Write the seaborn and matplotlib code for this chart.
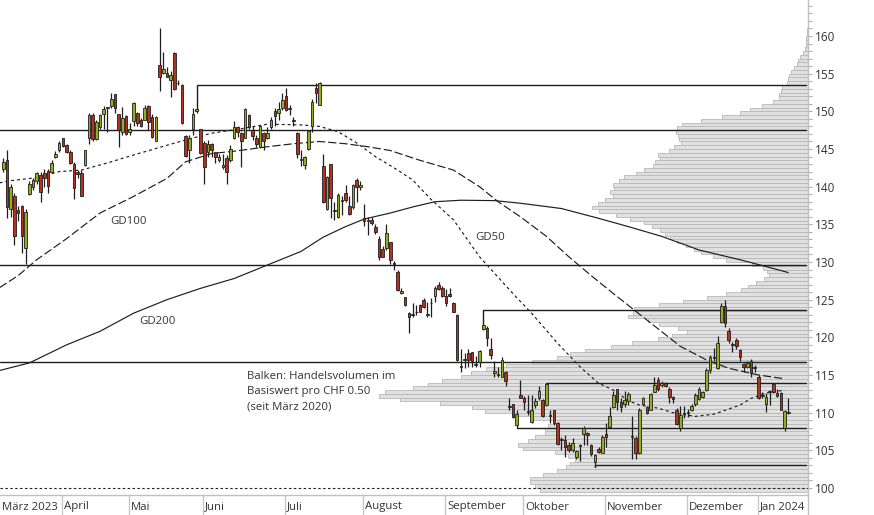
import numpy as np
import pandas as pd
import seaborn as sns
import matplotlib.pyplot as plt

# daily candles in CHF, 9 Mar 2023 .. 12 Jan 2024
opens = [142.4, 143.6, 137.1, 138.8, 136.9, 137.4, 131.8, 139.0, 140.0, 140.7,
         141.5, 141.8, 142.1, 142.0, 144.0, 144.9, 146.4, 145.5, 144.6, 143.0,
         141.9, 141.8, 142.9, 146.5, 149.5, 146.3, 147.9, 149.6, 150.5, 150.7,
         152.3, 149.7, 147.3, 149.4, 147.2, 148.7, 149.8, 148.8, 148.9, 150.7,
         149.3, 146.0, 156.2, 155.1, 155.1, 154.2, 157.8, 153.8, 153.5, 146.7,
         144.9, 147.7, 150.0, 147.7, 145.8, 144.6, 145.6, 144.6, 143.6, 142.6,
         143.8, 143.5, 146.4, 147.9, 147.1, 146.5, 149.5, 147.5, 146.5, 145.2,
         147.1, 146.5, 147.9, 150.0, 149.8, 150.4, 152.0, 150.3, 148.8, 147.1,
         143.6, 142.9, 145.0, 148.1, 153.1, 150.9, 142.8, 137.1, 143.0, 136.8,
         136.0, 138.1, 139.2, 137.4, 137.3, 140.9, 139.9, 135.9, 135.4, 135.6,
         134.7, 133.1, 131.7, 131.8, 132.6, 129.8, 128.7, 125.9, 125.3, 123.2,
         123.0, 123.3, 124.3, 125.0, 123.0, 124.5, 125.5, 126.9, 126.5, 125.5,
         125.8, 124.6, 123.0, 116.1, 117.0, 117.9, 118.0, 116.3, 116.7, 121.1,
         121.3, 118.4, 115.2, 115.0, 114.8, 115.4, 110.8, 111.2, 108.4, 112.3,
         111.9, 110.1, 108.7, 111.0, 112.0, 111.7, 111.0, 109.6, 110.4, 108.6,
         106.4, 106.4, 105.7, 105.0, 104.1, 105.6, 107.2, 107.3, 105.7, 103.5,
         105.2, 104.7, 107.2, 108.05, 110.8, 113.1, 111.4, 111.1, 111.5, 106.8,
         106.7, 104.6, 111.1, 110.8, 110.4, 112.8, 114.3, 113.7, 114.0, 113.2,
         112.1, 110.4, 108.0, 109.8, 109.9, 110.4, 111.1, 111.8, 112.1, 113.0,
         115.7, 117.3, 115.9, 122.1, 124.1, 120.9, 119.0, 119.6, 118.3, 116.5,
         116.1, 116.9, 115.9, 114.8, 112.2, 111.1, 112.8, 113.8, 112.6, 112.6,
         107.9, 110.0]
highs = [143.8, 144.9, 140.4, 139.1, 137.4, 137.6, 137.1, 140.8, 141.2, 142.0,
         142.0, 142.4, 142.4, 143.5, 144.7, 146.1, 146.5, 145.7, 144.9, 143.3,
         142.2, 142.2, 144.9, 149.8, 149.8, 148.8, 149.6, 150.7, 150.6, 152.4,
         152.3, 149.7, 150.6, 149.5, 148.4, 151.3, 149.9, 149.1, 150.8, 150.8,
         149.7, 149.4, 161.0, 157.9, 155.9, 155.3, 157.9, 154.2, 153.6, 146.9,
         146.9, 150.5, 150.4, 147.7, 146.0, 146.2, 145.8, 144.6, 144.4, 144.4,
         144.2, 145.5, 148.7, 148.0, 147.2, 150.5, 149.7, 148.0, 146.9, 148.2,
         147.2, 147.9, 149.2, 150.4, 151.3, 152.5, 153.1, 150.8, 149.3, 147.2,
         144.9, 144.1, 147.5, 151.6, 153.7, 153.9, 144.4, 141.4, 143.0, 138.0,
         139.2, 138.8, 140.2, 138.7, 140.4, 141.2, 140.7, 137.7, 136.0, 136.0,
         135.0, 133.4, 132.1, 135.0, 132.7, 130.1, 128.9, 126.5, 125.4, 123.3,
         124.6, 124.3, 124.4, 125.2, 124.7, 125.2, 126.8, 127.3, 126.8, 126.4,
         126.6, 124.7, 123.1, 118.5, 117.9, 118.5, 118.1, 117.5, 118.3, 121.7,
         121.5, 119.9, 116.9, 116.1, 117.4, 115.5, 111.9, 111.2, 110.4, 114.3,
         112.2, 112.3, 112.3, 111.9, 113.5, 111.8, 113.9, 110.4, 110.4, 108.8,
         106.8, 107.0, 106.1, 106.6, 105.1, 105.8, 108.2, 107.4, 105.8, 104.5,
         105.4, 107.0, 108.6, 110.8, 112.9, 113.2, 111.9, 112.9, 112.8, 109.5,
         106.9, 110.6, 112.1, 110.9, 112.6, 114.8, 114.7, 114.2, 114.1, 113.4,
         112.2, 110.6, 110.9, 110.9, 110.5, 111.2, 112.6, 113.4, 112.9, 115.9,
         117.7, 118.6, 120.2, 124.5, 125.0, 121.2, 119.4, 119.9, 118.5, 116.6,
         116.9, 117.1, 116.3, 115.0, 112.7, 112.6, 113.0, 113.9, 113.2, 112.8,
         110.4, 111.9]
lows = [141.9, 135.8, 136.0, 132.3, 135.5, 131.2, 129.7, 138.9, 139.6, 140.4,
        138.0, 140.0, 139.1, 141.8, 143.8, 144.6, 145.3, 144.5, 143.0, 138.3,
        141.1, 138.7, 142.7, 145.7, 146.1, 146.2, 147.7, 147.7, 147.2, 150.5,
        149.8, 145.3, 146.9, 146.9, 146.9, 148.1, 148.1, 147.9, 148.9, 147.5,
        146.5, 146.0, 152.7, 155.0, 154.5, 151.9, 152.8, 153.5, 148.3, 144.0,
        143.1, 146.9, 149.8, 144.4, 140.4, 144.0, 144.0, 143.1, 143.3, 142.4,
        140.4, 143.3, 146.3, 146.6, 142.6, 146.4, 147.7, 146.2, 145.3, 145.1,
        144.9, 146.3, 147.7, 148.0, 148.9, 150.2, 150.0, 149.5, 148.0, 143.8,
        142.7, 142.3, 144.9, 147.3, 151.1, 150.8, 137.8, 136.9, 135.8, 135.6,
        135.9, 136.2, 138.0, 136.3, 137.1, 138.0, 139.6, 134.8, 133.6, 134.9,
        133.7, 130.2, 130.6, 131.6, 129.8, 129.0, 126.1, 125.8, 124.1, 120.6,
        122.7, 123.0, 123.3, 123.9, 122.7, 122.7, 124.7, 126.3, 125.4, 124.2,
        125.4, 123.3, 116.9, 115.4, 115.9, 116.1, 116.1, 116.1, 116.1, 121.0,
        118.8, 117.1, 114.8, 114.8, 114.7, 113.5, 110.4, 109.3, 107.9, 111.9,
        110.4, 109.7, 108.6, 110.6, 111.7, 109.4, 110.9, 108.6, 108.4, 105.7,
        105.0, 104.1, 104.8, 104.8, 103.8, 103.6, 105.7, 105.7, 104.2, 102.8,
        104.6, 104.6, 105.5, 107.9, 110.6, 110.4, 110.1, 110.8, 111.0, 103.9,
        103.8, 104.5, 111.0, 109.8, 110.3, 112.7, 112.9, 113.4, 113.4, 111.3,
        111.3, 108.4, 107.5, 109.3, 109.4, 110.2, 110.9, 111.7, 112.0, 112.9,
        115.3, 116.8, 115.8, 121.9, 121.4, 119.2, 118.1, 118.5, 116.8, 115.4,
        115.9, 114.8, 115.4, 111.8, 111.9, 110.1, 111.0, 112.6, 112.1, 110.4,
        107.6, 109.8]
closes = [143.3, 137.3, 140.0, 133.4, 136.5, 133.4, 136.6, 140.4, 140.9, 141.8,
          139.3, 141.1, 140.1, 143.2, 144.4, 145.8, 145.4, 144.6, 143.2, 139.8,
          141.7, 138.8, 144.9, 149.5, 146.3, 148.6, 149.5, 150.3, 150.6, 151.6,
          150.4, 147.5, 149.1, 147.0, 147.7, 151.1, 148.4, 148.0, 150.5, 148.6,
          146.6, 149.3, 154.6, 155.6, 154.6, 154.8, 152.9, 153.7, 148.4, 144.1,
          146.5, 149.6, 150.3, 144.5, 142.6, 145.6, 144.9, 144.0, 143.9, 142.9,
          141.9, 145.0, 147.9, 147.2, 146.0, 150.3, 147.9, 146.7, 145.7, 148.0,
          146.1, 147.1, 148.9, 149.4, 150.3, 151.5, 150.2, 150.4, 148.7, 144.3,
          143.7, 144.0, 147.4, 151.2, 152.4, 153.8, 137.9, 141.3, 138.5, 136.9,
          138.9, 138.2, 138.2, 136.4, 140.2, 140.0, 140.2, 135.4, 135.5, 135.2,
          134.0, 130.7, 130.7, 133.9, 130.3, 129.7, 126.3, 126.2, 124.3, 122.7,
          123.1, 123.4, 123.4, 124.0, 123.0, 124.6, 126.5, 126.4, 125.5, 124.6,
          125.5, 123.4, 117.0, 116.2, 117.0, 117.0, 116.8, 116.4, 118.2, 121.6,
          119.9, 117.7, 115.5, 115.1, 117.0, 114.2, 110.9, 109.4, 109.8, 112.0,
          111.4, 110.2, 110.4, 111.6, 112.9, 109.6, 113.8, 109.7, 108.6, 105.8,
          106.5, 105.4, 105.1, 106.0, 104.9, 105.7, 107.9, 107.0, 104.5, 104.4,
          104.8, 106.8, 106.8, 109.6, 112.3, 111.4, 110.8, 111.7, 112.5, 106.9,
          104.6, 110.35, 111.9, 109.9, 112.5, 113.7, 113.1, 114.0, 113.6, 112.1,
          111.8, 108.5, 109.7, 109.9, 110.1, 110.9, 112.3, 113.2, 112.8, 115.7,
          117.4, 117.4, 119.2, 124.1, 121.9, 119.7, 119.1, 118.8, 117.4, 116.0,
          116.6, 115.2, 116.0, 112.0, 112.4, 112.1, 112.9, 112.8, 112.2, 110.4,
          110.2, 110.0]

# moving averages at these trading-day positions
gd50_pos = [-1, 2, 9, 15, 21, 29, 35, 44, 49, 56, 64, 71, 80, 85, 90, 95, 100, 106,
            110, 115, 121, 128, 137, 142, 149, 155, 160, 164, 168, 171, 176, 180,
            186, 191, 198, 201, 205, 210]
gd50 = [140.5, 140.8, 141.2, 142.0, 142.2, 143.3, 144.2, 145.5, 146.2, 147.1, 147.7,
        148.3, 148.2, 148.0, 147.3, 145.8, 144.0, 142.2, 140.9, 138.3, 135.6, 130.7,
        125.8, 123.2, 119.2, 116.1, 113.9, 113.0, 111.6, 111.0, 110.6, 110.0, 109.5,
        109.8, 111.0, 111.9, 112.6, 113.0]
gd100_pos = [-1, 4, 9, 17, 26, 35, 44, 49, 56, 62, 71, 78, 85, 92, 98, 104, 112, 121,
             128, 133, 139, 146, 152, 158, 164, 173, 182, 189, 195, 203, 210]
gd100 = [126.6, 128.2, 130.3, 133.1, 136.5, 138.7, 141.1, 143.3, 144.4, 144.7, 145.3,
         145.7, 146.0, 145.7, 145.3, 144.8, 143.5, 142.2, 140.0, 138.0, 136.0, 133.4,
         130.7, 128.2, 125.8, 122.3, 118.8, 117.0, 115.9, 115.0, 114.5]
gd200_pos = [-1, 7, 17, 26, 35, 44, 53, 62, 71, 80, 86, 92, 97, 104, 110, 116, 123,
             132, 139, 150, 160, 168, 177, 187, 198, 205, 211]
gd200 = [115.6, 116.6, 119.0, 120.8, 123.2, 125.0, 126.5, 127.8, 129.6, 131.4, 133.3,
         134.7, 135.7, 136.5, 137.3, 138.0, 138.2, 138.15, 137.8, 137.1, 135.8, 134.7,
         133.4, 131.6, 130.3, 129.4, 128.6]

# horizontal levels
full_levels = [147.5, 129.6, 116.75]
bracket_levels = [153.5, 123.6, 114.0, 108.0, 103.0]
bracket_start = [52, 129, 146, 138, 159]

# volume profile per CHF 0.50, from 99.50 upwards (relative units)
vol_len = [268, 273, 278, 278, 265, 251, 242, 238, 233, 240,
           253, 285, 290, 280, 273, 263, 263, 260, 251, 275,
           296, 323, 336, 368, 408, 429, 423, 395, 380, 366,
           347, 337, 322, 302, 276, 251, 238, 223, 197, 176,
           150, 136, 121, 130, 149, 160, 180, 175, 174, 149,
           125, 101, 82, 67, 60, 52, 44, 39, 41, 45,
           56, 82, 95, 107, 114, 122, 131, 138, 143, 148,
           156, 164, 178, 192, 209, 216, 210, 203, 195, 198,
           194, 195, 189, 184, 172, 164, 155, 153, 148, 150,
           139, 134, 127, 129, 130, 132, 131, 126, 107, 86,
           68, 58, 46, 35, 29, 29, 27, 26, 21, 20,
           19, 17, 14, 11, 10, 8, 5, 3, 2.5, 2,
           2, 1.5, 1]
vol_price = 99.75 + 0.5 * np.arange(len(vol_len))

holidays = ['2023-04-07', '2023-04-10', '2023-05-01', '2023-05-18', '2023-05-29',
            '2023-08-01', '2023-12-25', '2023-12-26', '2024-01-01', '2024-01-02']
dates = pd.bdate_range(start='2023-03-09', periods=len(opens), freq='C', holidays=holidays)
month_names = {1: 'Jan 2024', 3: 'März 2023', 4: 'April', 5: 'Mai', 6: 'Juni', 7: 'Juli',
               8: 'August', 9: 'September', 10: 'Oktober', 11: 'November', 12: 'Dezember'}

sns.set_theme(style='white')
plt.rcParams['font.family'] = ['Open Sans', 'DejaVu Sans']
txt = '#333333'
ink = '#1e1e1e'
green = '#95ae1f'
red = '#b5321f'
fs = 8.2

fig = plt.figure(figsize=(8.74, 5.15), dpi=100)
ax = fig.add_axes([0, 20 / 515, 808 / 874, 495 / 515])
xmin, xmax = -0.89, 216.3
ax.set_xlim(xmin, xmax)
ax.set_ylim(99.07, 164.78)

# volume profile on a twin axis, bars growing from the right edge
axv = ax.twiny()
axv.barh(vol_price, vol_len, height=0.5, left=0, color='#e0e0e0',
         edgecolor='#b9b9b9', linewidth=0.6)
axv.set_xlim(808, 0)
axv.set_xticks([])
for s in axv.spines.values():
    s.set_visible(False)
ax.set_zorder(axv.get_zorder() + 1)
ax.patch.set_visible(False)

# levels
line_end = 215.8
for lv in full_levels:
    ax.plot([xmin, line_end], [lv, lv], color=ink, lw=1.0, zorder=3)
o, h, l, c = map(np.array, (opens, highs, lows, closes))
for lv, i0 in zip(bracket_levels, bracket_start):
    anchor = h[i0] if lv > h[i0] else l[i0]
    ax.plot([i0, i0, line_end], [anchor, lv, lv], color=ink, lw=1.0, zorder=3)
ax.plot([xmin, xmax], [100, 100], color=ink, lw=0.8, linestyle=(0, (2.2, 2.2)), zorder=3)

# moving averages
sns.lineplot(x=gd200_pos, y=gd200, ax=ax, color=ink, linewidth=0.85, sort=False,
             estimator=None, zorder=3)
sns.lineplot(x=gd100_pos, y=gd100, ax=ax, color=ink, linewidth=0.85, sort=False,
             estimator=None, linestyle=(0, (7, 2.5)), zorder=3)
sns.lineplot(x=gd50_pos, y=gd50, ax=ax, color=ink, linewidth=0.85, sort=False,
             estimator=None, linestyle=(0, (2.5, 2.5)), zorder=3)

# candles
idx = np.arange(len(opens))
up = c >= o
ax.vlines(idx, l, h, color=ink, lw=0.9, zorder=4)
ax.bar(idx, np.maximum(np.abs(c - o), 0.12), bottom=np.minimum(o, c), width=0.7,
       color=np.where(up, green, red), edgecolor=ink, linewidth=0.6, zorder=5)

# labels
ax.text(28.7, 135.4, 'GD100', fontsize=fs, color=txt, va='center', zorder=6)
ax.text(126.8, 133.2, 'GD50', fontsize=fs, color=txt, va='center', zorder=6)
ax.text(36.5, 122.05, 'GD200', fontsize=fs, color=txt, va='center', zorder=6)
note = ['Balken: Handelsvolumen im', 'Basiswert pro CHF 0.50', '(seit März 2020)']
for k, s in enumerate(note):
    ax.text(65.5, 114.8 - 2.0 * k, s, fontsize=fs, color=txt, va='center', zorder=6)

# right price axis
ax.yaxis.tick_right()
ax.set_yticks(range(100, 161, 5))
ax.set_yticks(range(100, 165), minor=True)
ax.tick_params(axis='y', which='both', right=True, left=False, length=3, width=0.8,
               color='#b0b0b0', labelsize=fs + 0.3, labelcolor=txt, pad=2)
ax.set_xticks([])
for side in ['top', 'left']:
    ax.spines[side].set_visible(False)
for side in ['right', 'bottom']:
    ax.spines[side].set_color('#c0c0c0')
    ax.spines[side].set_linewidth(1.0)
ax.plot([1, 1], [-20 / 495, 0], transform=ax.transAxes, clip_on=False, color='#c0c0c0', lw=1.0)

# month separators and names
starts = [i for i in range(1, len(dates)) if dates[i].month != dates[i - 1].month]
seps = [i - 1.25 for i in starts]
ax.vlines(seps, -20 / 495, 0, transform=ax.get_xaxis_transform(), clip_on=False,
          color='#c8c8c8', lw=1.0)
ax.text(-0.35, -12 / 495, month_names[dates[0].month], transform=ax.get_xaxis_transform(),
        fontsize=fs, color=txt, va='center', ha='left')
for i, sx in zip(starts, seps):
    ax.text(sx + 0.55, -12 / 495, month_names[dates[i].month], transform=ax.get_xaxis_transform(),
            fontsize=fs, color=txt, va='center', ha='left')
ax.set_xlim(xmin, xmax)
ax.set_ylim(99.07, 164.78)
ax.set_xlabel('')
ax.set_ylabel('')

fig.savefig('out.png', dpi=100, facecolor='white')
